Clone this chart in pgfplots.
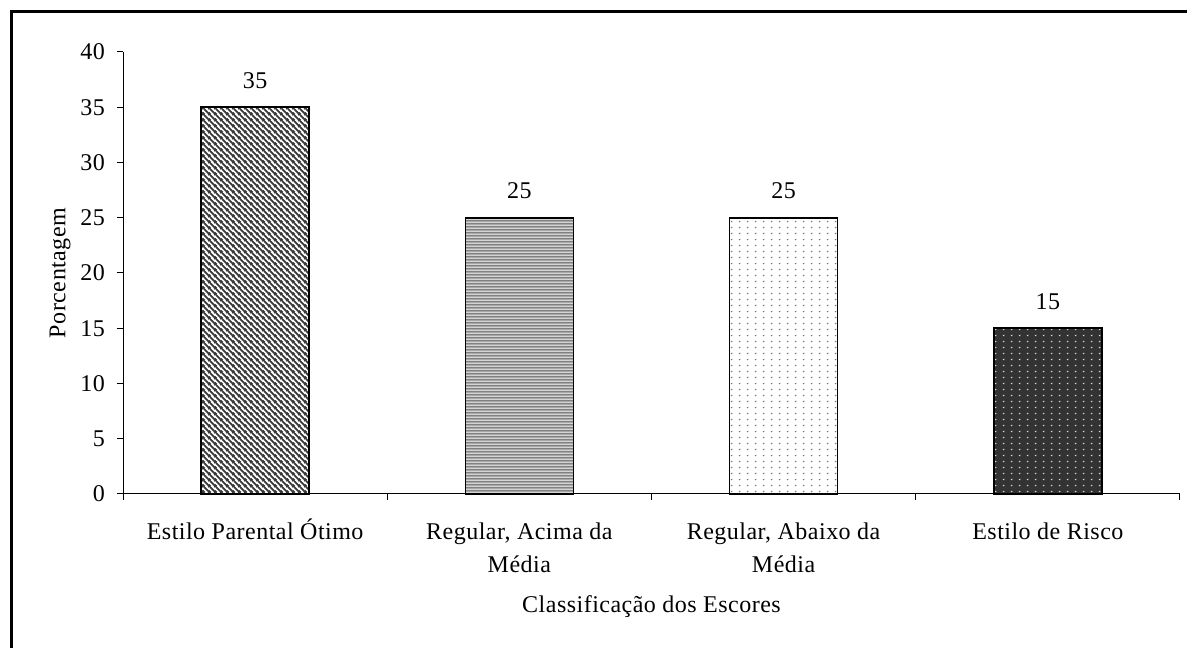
\documentclass[border=0pt]{standalone}
\usepackage{pgfplots}
\pgfplotsset{compat=1.18}
\usepackage{fontspec}
\setmainfont{Liberation Serif}[LetterSpace=2]
\usetikzlibrary{patterns.meta}
\definecolor{diagcol}{HTML}{3A3A3A}
\definecolor{horcol}{HTML}{555555}
\definecolor{horbg}{HTML}{D4D4D4}
\definecolor{dotgray}{HTML}{7A7A7A}
\definecolor{darkbg}{HTML}{333333}
\definecolor{lightdot}{HTML}{D8D8D8}

\tikzdeclarepattern{
  name=diagstripes,
  type=colored,
  bottom left={(0pt,0pt)},
  top right={(6pt,6pt)},
  tile size={(6pt,6pt)},
  code={
    \draw[line width=2.1pt, diagcol] (-1pt,7pt) -- (7pt,-1pt);
    \draw[line width=2.1pt, diagcol] (-1pt,1pt) -- (1pt,-1pt);
    \draw[line width=2.1pt, diagcol] (5pt,7pt) -- (7pt,5pt);
  }
}
\tikzdeclarepattern{
  name=horstripes,
  type=colored,
  bottom left={(0pt,0pt)},
  top right={(3pt,3pt)},
  tile size={(3pt,3pt)},
  code={
    \fill[horcol] (-0.5pt,0.7pt) rectangle (3.5pt,2.3pt);
  }
}
\tikzdeclarepattern{
  name=lightdots,
  type=colored,
  bottom left={(0pt,0pt)},
  top right={(8pt,5.5pt)},
  tile size={(8pt,5.5pt)},
  code={
    \fill[dotgray] (3.25pt,2pt) rectangle (4.75pt,3.5pt);
  }
}
\tikzdeclarepattern{
  name=darkdots,
  type=colored,
  bottom left={(0pt,0pt)},
  top right={(8pt,5.5pt)},
  tile size={(8pt,5.5pt)},
  code={
    \fill[lightdot] (3.25pt,2pt) rectangle (4.75pt,3.5pt);
  }
}

\newcommand{\twol}[2]{\begin{tabular}[t]{@{}c@{}}#1\\#2\end{tabular}}

\begin{document}
\begin{tikzpicture}
\useasboundingbox (0,0) rectangle (1187pt,648pt);
\draw[line width=3pt] (11.5pt,0pt) -- (11.5pt,636.5pt) -- (1190pt,636.5pt);
\begin{axis}[
  at={(123pt,154pt)}, anchor=south west,
  scale only axis, width=1057pt, height=442pt,
  font=\fontsize{24}{33}\selectfont,
  /pgf/number format/assume math mode=true,
  xmin=-0.5, xmax=3.5, ymin=0, ymax=40,
  axis x line*=bottom, axis y line*=left,
  axis line style={line width=1pt},
  tick align=outside, major tick length=6pt,
  tick style={black, line width=1pt},
  ytick={0,5,...,40},
  yticklabel style={anchor=east, inner sep=0pt, xshift=-12pt},
  xtick={-0.5,0.5,1.5,2.5,3.5},
  xticklabels={,,,,},
  extra x ticks={0,1,2,3},
  extra x tick labels={Estilo Parental Ótimo, \twol{Regular, Acima da}{Média}, \twol{Regular, Abaixo da}{Média}, Estilo de Risco},
  extra x tick style={major tick length=0pt, tick style={draw=none},
    xticklabel style={anchor=base, yshift=-46pt}},
  xlabel={Classificação dos Escores},
  xlabel style={at={(axis description cs:0.5,0)}, anchor=base, yshift=-119pt},
  ylabel={Porcentagem},
  ylabel style={at={(axis description cs:0,0.5)}, anchor=center, yshift=63pt},
  ybar, bar width=108pt,
  nodes near coords,
  every node near coord/.append style={anchor=base, yshift=19pt, font=\fontsize{24}{28}\selectfont},
  clip=false,
]
\addplot[bar shift=0pt, draw=black, line width=1.6pt, fill=white, postaction={pattern=diagstripes}] coordinates {(0,35)};
\addplot[bar shift=0pt, draw=black, line width=1.6pt, fill=horbg, postaction={pattern=horstripes}] coordinates {(1,25)};
\addplot[bar shift=0pt, draw=black, line width=1.6pt, fill=white, postaction={pattern=lightdots}] coordinates {(2,25)};
\addplot[bar shift=0pt, draw=black, line width=1.6pt, fill=darkbg, postaction={pattern=darkdots}] coordinates {(3,15)};
\end{axis}
\end{tikzpicture}
\end{document}
